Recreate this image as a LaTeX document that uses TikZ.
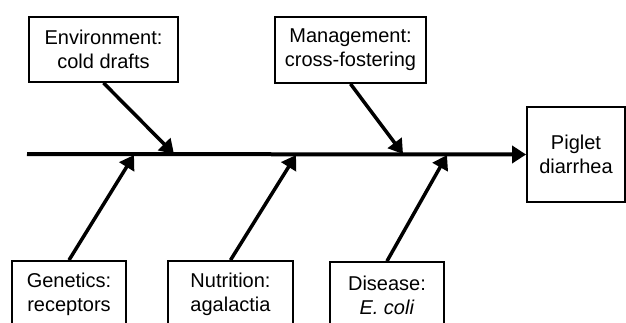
\documentclass[tikz,border=0pt]{standalone}
\usepackage{fontspec}
\setmainfont{Liberation Sans}
\usetikzlibrary{arrows.meta}
\begin{document}
\begin{tikzpicture}[x=1pt,y=-1pt,
  cause/.style={draw, line width=1.8pt, align=center, inner sep=0pt,
    font=\fontsize{20}{24}\selectfont},
  bone/.style={line width=3.5pt, -{Triangle[length=14pt,width=17pt]}},
  spine/.style={bone, line width=4pt}]
\useasboundingbox (0,0) rectangle (626,322);
\clip (0,0) rectangle (626,322);
\fill[white] (0,0) rectangle (626,322);

% effect box and spine
\node[cause, minimum width=98pt, minimum height=95pt] (effect) at (576,154.5) {Piglet\\diarrhea};
\coordinate (tail) at (27,154);
\draw[spine] (tail) -- (effect.west);

% upper causes
\node[cause, minimum width=149pt, minimum height=65pt] (env) at (103.5,49.5) {Environment:\\cold drafts};
\node[cause, minimum width=151pt, minimum height=66pt] (man) at (350.5,50) {Management:\\cross-fostering};
\coordinate (envhit) at (174,154);
\coordinate (manhit) at (403,154);
\draw[bone] (env.south) -- (envhit);
\draw[bone] (man.south) -- (manhit);

% lower causes
\node[cause, minimum width=114pt, minimum height=66pt] (gen) at (69,294) {Genetics:\\receptors};
\node[cause, minimum width=125pt, minimum height=66pt] (nut) at (230.5,294) {Nutrition:\\agalactia};
\node[cause, minimum width=114pt, minimum height=66pt] (dis) at (387,295) {Disease:\\\textit{E. coli}};
\coordinate (genhit) at (134,155);
\coordinate (nuthit) at (296,155);
\coordinate (dishit) at (447,155);
\draw[bone] (gen.north) -- (genhit);
\draw[bone] (nut.north) -- (nuthit);
\draw[bone] (dis.north) -- (dishit);
\end{tikzpicture}
\end{document}
